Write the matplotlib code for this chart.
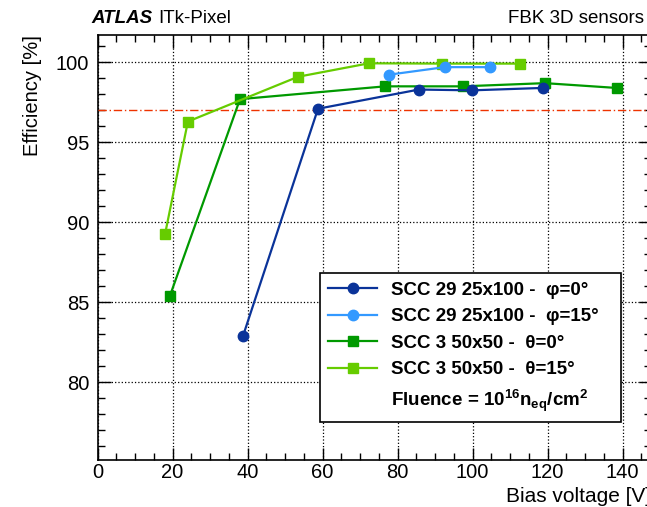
import numpy as np
import matplotlib
matplotlib.use('Agg')
import matplotlib.pyplot as plt
from matplotlib.ticker import MultipleLocator
from matplotlib.lines import Line2D

plt.rcParams['font.family'] = ['Liberation Sans', 'DejaVu Sans']
plt.rcParams['mathtext.fontset'] = 'custom'
plt.rcParams['mathtext.rm'] = 'Liberation Sans'
plt.rcParams['mathtext.bf'] = 'Liberation Sans:bold'
plt.rcParams['mathtext.default'] = 'bf'

#--------------------------------------
# dados
#--------------------------------------
v_scc29_0 = [38.8, 58.8, 85.7, 99.8, 118.7]
eff_scc29_0 = [82.9, 97.1, 98.3, 98.25, 98.4]

v_scc29_15 = [77.8, 92.6, 104.7]
eff_scc29_15 = [99.23, 99.7, 99.7]

v_scc3_0 = [19.3, 38.0, 76.7, 97.4, 119.3, 138.4]
eff_scc3_0 = [85.4, 97.7, 98.5, 98.5, 98.7, 98.4]

v_scc3_15 = [18.0, 24.1, 53.5, 72.4, 91.8, 112.7]
eff_scc3_15 = [89.25, 96.3, 99.1, 99.94, 99.92, 99.92]

ref_eff = 97.0

labels = ['SCC 29 25x100 -  φ=0°', 'SCC 29 25x100 -  φ=15°',
          'SCC 3 50x50 -  θ=0°', 'SCC 3 50x50 -  θ=15°']

fig = plt.figure(figsize=(6.47, 5.07), dpi=100)
ax = fig.add_axes([0.1507, 0.0927, 0.8555, 0.838])

ax.plot(v_scc29_0, eff_scc29_0, '-o', color='#0a3399', lw=1.6, ms=7.5, label=labels[0], zorder=5)
ax.plot(v_scc29_15, eff_scc29_15, '-o', color='#3399ff', lw=1.6, ms=7.5, label=labels[1], zorder=5)
ax.plot(v_scc3_0, eff_scc3_0, '-s', color='#009900', lw=1.6, ms=7.5, label=labels[2], zorder=4)
ax.plot(v_scc3_15, eff_scc3_15, '-s', color='#66cc00', lw=1.6, ms=7.5, label=labels[3], zorder=4)
ax.axhline(ref_eff, color='#ee3300', lw=1.0, ls=(0, (6, 2, 1, 2)), zorder=3)

ax.set_xlim(0, 147.6)
ax.set_ylim(75.15, 101.7)
ax.xaxis.set_major_locator(MultipleLocator(20))
ax.xaxis.set_minor_locator(MultipleLocator(5))
ax.yaxis.set_major_locator(MultipleLocator(5))
ax.yaxis.set_minor_locator(MultipleLocator(1))
ax.tick_params(which='both', direction='in', top=True, right=True, labelsize=14.5, width=1.0)
ax.tick_params(which='major', length=9)
ax.tick_params(axis='y', which='major', pad=6)
ax.tick_params(axis='x', which='major', pad=2)
ax.tick_params(which='minor', length=5)
ax.grid(True, which='major', ls=':', color='black', lw=0.9)
for s in ax.spines.values():
    s.set_linewidth(1.2)

ax.set_ylabel('Efficiency [%]', fontsize=14.5, loc='top', labelpad=10)
ax.set_xlabel('Bias voltage [V]', fontsize=15, loc='right', labelpad=4)

fig.text(0.142, 0.955, 'ATLAS', fontsize=13.5, weight='bold', style='italic', va='baseline')
fig.text(0.244, 0.955, 'ITk-Pixel', fontsize=13.5, va='baseline')
fig.text(0.995, 0.955, 'FBK 3D sensors', fontsize=13.5, va='baseline', ha='right')

handles, lab = ax.get_legend_handles_labels()
handles.append(Line2D([], [], color='none'))
lab.append(r'Fluence = 10$^{16}$n$_{eq}$/cm$^{2}$')
leg = ax.legend(handles, lab, loc='lower left', bbox_to_anchor=(0.402, 0.089, 0.544, 0.353),
                mode='expand', prop={'weight': 'bold', 'size': 13.5}, frameon=True,
                fancybox=False, edgecolor='black', framealpha=1, handlelength=2.6,
                handletextpad=0.75, labelspacing=0.5, borderpad=0.45, borderaxespad=0)
leg.get_frame().set_linewidth(1.2)

fig.savefig('out.png', dpi=100)
